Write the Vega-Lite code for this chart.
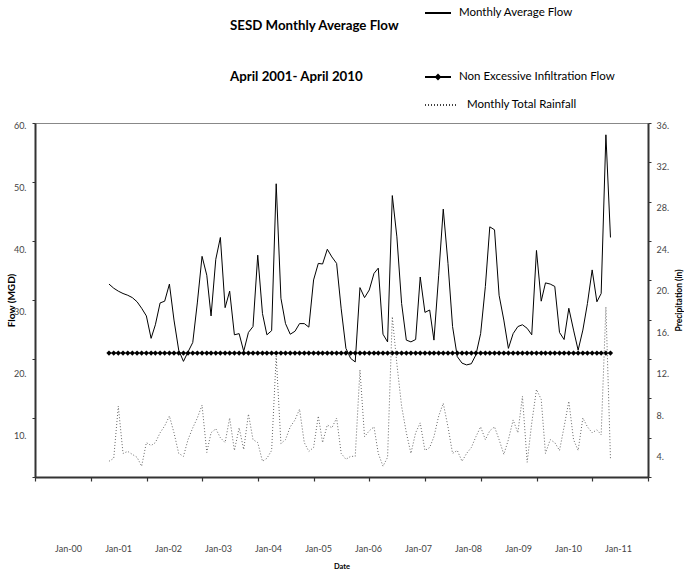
{
  "$schema": "https://vega.github.io/schema/vega-lite/v6.json",
  "width": 613,
  "height": 354,
  "autosize": {"type": "none"},
  "padding": {"left": 35, "top": 123, "right": 36, "bottom": 96},
  "background": "white",
  "config": {
    "font": "Lato",
    "view": {"stroke": "#888", "strokeWidth": 1},
    "axis": {"grid": false},
    "legend": {"padding": 0, "labelFont": "Lato", "labelFontSize": 11.5, "labelColor": "black"}
  },
  "title": {
    "text": "SESD Monthly Average Flow",
    "subtitle": "April 2001- April 2010",
    "anchor": "start",
    "frame": "group",
    "dx": 195,
    "offset": -84,
    "font": "Lato",
    "fontSize": 13.3,
    "fontWeight": "bold",
    "color": "black",
    "subtitleFont": "Lato",
    "subtitleFontSize": 13.3,
    "subtitleFontWeight": "bold",
    "subtitleColor": "black",
    "subtitlePadding": 37
  },
  "data": {"values": [
    {"date":"2001-04-30","flow":32.7,"nei":21,"rain":1.6},
    {"date":"2001-05-31","flow":32.0,"nei":21,"rain":1.9},
    {"date":"2001-06-30","flow":31.5,"nei":21,"rain":7.2},
    {"date":"2001-07-31","flow":31.1,"nei":21,"rain":2.4},
    {"date":"2001-08-31","flow":30.8,"nei":21,"rain":2.6},
    {"date":"2001-09-30","flow":30.4,"nei":21,"rain":2.3},
    {"date":"2001-10-31","flow":29.7,"nei":21,"rain":2.0},
    {"date":"2001-11-30","flow":28.6,"nei":21,"rain":1.1},
    {"date":"2001-12-31","flow":27.3,"nei":21,"rain":3.5},
    {"date":"2002-01-31","flow":23.5,"nei":21,"rain":3.2},
    {"date":"2002-02-28","flow":25.8,"nei":21,"rain":3.5},
    {"date":"2002-03-31","flow":29.5,"nei":21,"rain":4.5},
    {"date":"2002-04-30","flow":29.8,"nei":21,"rain":5.2},
    {"date":"2002-05-31","flow":32.7,"nei":21,"rain":6.2},
    {"date":"2002-06-30","flow":26.6,"nei":21,"rain":4.5},
    {"date":"2002-07-31","flow":21.5,"nei":21,"rain":2.4},
    {"date":"2002-08-31","flow":19.6,"nei":21,"rain":2.1},
    {"date":"2002-09-30","flow":21.2,"nei":21,"rain":3.8},
    {"date":"2002-10-31","flow":22.8,"nei":21,"rain":5.0},
    {"date":"2002-11-30","flow":29.5,"nei":21,"rain":6.0},
    {"date":"2002-12-31","flow":37.4,"nei":21,"rain":7.3},
    {"date":"2003-01-31","flow":34.2,"nei":21,"rain":2.5},
    {"date":"2003-02-28","flow":27.3,"nei":21,"rain":4.5},
    {"date":"2003-03-31","flow":36.9,"nei":21,"rain":4.9},
    {"date":"2003-04-30","flow":40.6,"nei":21,"rain":4.0},
    {"date":"2003-05-31","flow":28.7,"nei":21,"rain":3.5},
    {"date":"2003-06-30","flow":31.5,"nei":21,"rain":6.0},
    {"date":"2003-07-31","flow":24.1,"nei":21,"rain":2.7},
    {"date":"2003-08-31","flow":24.3,"nei":21,"rain":5.0},
    {"date":"2003-09-30","flow":21.3,"nei":21,"rain":2.8},
    {"date":"2003-10-31","flow":24.5,"nei":21,"rain":6.4},
    {"date":"2003-11-30","flow":25.5,"nei":21,"rain":3.8},
    {"date":"2003-12-31","flow":37.6,"nei":21,"rain":3.5},
    {"date":"2004-01-31","flow":27.7,"nei":21,"rain":1.6},
    {"date":"2004-02-29","flow":24.1,"nei":21,"rain":1.9},
    {"date":"2004-03-31","flow":24.8,"nei":21,"rain":2.7},
    {"date":"2004-04-30","flow":49.7,"nei":21,"rain":12.3},
    {"date":"2004-05-31","flow":30.3,"nei":21,"rain":3.4},
    {"date":"2004-06-30","flow":26.0,"nei":21,"rain":3.8},
    {"date":"2004-07-31","flow":24.2,"nei":21,"rain":5.1},
    {"date":"2004-08-31","flow":24.7,"nei":21,"rain":5.8},
    {"date":"2004-09-30","flow":26.0,"nei":21,"rain":6.9},
    {"date":"2004-10-31","flow":26.0,"nei":21,"rain":3.5},
    {"date":"2004-11-30","flow":25.4,"nei":21,"rain":2.6},
    {"date":"2004-12-31","flow":33.4,"nei":21,"rain":3.0},
    {"date":"2005-01-31","flow":36.2,"nei":21,"rain":6.2},
    {"date":"2005-02-28","flow":36.1,"nei":21,"rain":3.5},
    {"date":"2005-03-31","flow":38.6,"nei":21,"rain":5.3},
    {"date":"2005-04-30","flow":37.3,"nei":21,"rain":5.0},
    {"date":"2005-05-31","flow":36.2,"nei":21,"rain":6.0},
    {"date":"2005-06-30","flow":28.5,"nei":21,"rain":2.4},
    {"date":"2005-07-31","flow":21.8,"nei":21,"rain":1.8},
    {"date":"2005-08-31","flow":20.1,"nei":21,"rain":2.1},
    {"date":"2005-09-30","flow":19.5,"nei":21,"rain":2.1},
    {"date":"2005-10-31","flow":32.1,"nei":21,"rain":10.9},
    {"date":"2005-11-30","flow":30.4,"nei":21,"rain":4.1},
    {"date":"2005-12-31","flow":31.7,"nei":21,"rain":4.7},
    {"date":"2006-01-31","flow":34.5,"nei":21,"rain":5.1},
    {"date":"2006-02-28","flow":35.4,"nei":21,"rain":2.4},
    {"date":"2006-03-31","flow":24.2,"nei":21,"rain":1.1},
    {"date":"2006-04-30","flow":22.9,"nei":21,"rain":2.0},
    {"date":"2006-05-31","flow":47.7,"nei":21,"rain":16.3},
    {"date":"2006-06-30","flow":40.7,"nei":21,"rain":11.5},
    {"date":"2006-07-31","flow":29.4,"nei":21,"rain":7.2},
    {"date":"2006-08-31","flow":23.2,"nei":21,"rain":4.5},
    {"date":"2006-09-30","flow":22.9,"nei":21,"rain":2.4},
    {"date":"2006-10-31","flow":23.3,"nei":21,"rain":4.5},
    {"date":"2006-11-30","flow":33.9,"nei":21,"rain":5.5},
    {"date":"2006-12-31","flow":27.9,"nei":21,"rain":2.7},
    {"date":"2007-01-31","flow":28.3,"nei":21,"rain":3.0},
    {"date":"2007-02-28","flow":23.2,"nei":21,"rain":4.1},
    {"date":"2007-03-31","flow":34.2,"nei":21,"rain":6.2},
    {"date":"2007-04-30","flow":45.4,"nei":21,"rain":7.5},
    {"date":"2007-05-31","flow":36.2,"nei":21,"rain":5.1},
    {"date":"2007-06-30","flow":25.5,"nei":21,"rain":2.4},
    {"date":"2007-07-31","flow":20.4,"nei":21,"rain":2.7},
    {"date":"2007-08-31","flow":19.3,"nei":21,"rain":1.6},
    {"date":"2007-09-30","flow":19.0,"nei":21,"rain":2.4},
    {"date":"2007-10-31","flow":19.2,"nei":21,"rain":3.0},
    {"date":"2007-11-30","flow":20.7,"nei":21,"rain":4.1},
    {"date":"2007-12-31","flow":24.3,"nei":21,"rain":5.1},
    {"date":"2008-01-31","flow":32.3,"nei":21,"rain":3.8},
    {"date":"2008-02-29","flow":42.4,"nei":21,"rain":4.7},
    {"date":"2008-03-31","flow":41.9,"nei":21,"rain":5.1},
    {"date":"2008-04-30","flow":30.8,"nei":21,"rain":3.8},
    {"date":"2008-05-31","flow":26.6,"nei":21,"rain":2.3},
    {"date":"2008-06-30","flow":21.8,"nei":21,"rain":3.8},
    {"date":"2008-07-31","flow":24.3,"nei":21,"rain":5.8},
    {"date":"2008-08-31","flow":25.5,"nei":21,"rain":4.5},
    {"date":"2008-09-30","flow":25.8,"nei":21,"rain":8.2},
    {"date":"2008-10-31","flow":25.2,"nei":21,"rain":1.5},
    {"date":"2008-11-30","flow":24.1,"nei":21,"rain":5.5},
    {"date":"2008-12-31","flow":38.4,"nei":21,"rain":8.9},
    {"date":"2009-01-31","flow":29.8,"nei":21,"rain":7.9},
    {"date":"2009-02-28","flow":32.9,"nei":21,"rain":2.4},
    {"date":"2009-03-31","flow":32.7,"nei":21,"rain":3.8},
    {"date":"2009-04-30","flow":32.3,"nei":21,"rain":3.5},
    {"date":"2009-05-31","flow":24.5,"nei":21,"rain":2.7},
    {"date":"2009-06-30","flow":23.3,"nei":21,"rain":5.1},
    {"date":"2009-07-31","flow":28.6,"nei":21,"rain":7.7},
    {"date":"2009-08-31","flow":24.9,"nei":21,"rain":3.8},
    {"date":"2009-09-30","flow":21.5,"nei":21,"rain":2.7},
    {"date":"2009-10-31","flow":24.9,"nei":21,"rain":6.0},
    {"date":"2009-11-30","flow":29.4,"nei":21,"rain":5.1},
    {"date":"2009-12-31","flow":35.1,"nei":21,"rain":4.5},
    {"date":"2010-01-31","flow":29.7,"nei":21,"rain":4.8},
    {"date":"2010-02-28","flow":31.1,"nei":21,"rain":4.3},
    {"date":"2010-03-31","flow":58.0,"nei":21,"rain":17.3},
    {"date":"2010-04-30","flow":40.6,"nei":21,"rain":1.9}
  ]},
  "layer": [
    {
      "encoding": {
        "x": {
          "field": "date", "type": "temporal",
          "scale": {"domain": [{"year":2000,"month":1,"date":1},{"year":2011,"month":1,"date":1}], "nice": false},
          "axis": {
            "title": null, "labels": false, "grid": false,
            "values": [{"year":2000,"month":1,"date":1},{"year":2001,"month":1,"date":1},{"year":2002,"month":1,"date":1},{"year":2003,"month":1,"date":1},{"year":2004,"month":1,"date":1},{"year":2005,"month":1,"date":1},{"year":2006,"month":1,"date":1},{"year":2007,"month":1,"date":1},{"year":2008,"month":1,"date":1},{"year":2009,"month":1,"date":1},{"year":2010,"month":1,"date":1},{"year":2011,"month":1,"date":1}],
            "tickSize": 4, "tickColor": "#333", "tickWidth": 1.2,
            "domainColor": "#333", "domainWidth": 2
          }
        }
      },
      "layer": [
        {
          "mark": {"type": "line", "strokeWidth": 1},
          "encoding": {
            "y": {"field": "flow", "type": "quantitative", "scale": {"domain": [0, 60], "nice": false},
              "axis": {"title": "Flow (MGD)", "values": [0,10,20,30,40,50,60],
                "labelExpr": "datum.value == 0 ? '' : datum.value + '.'",
                "labelOffset": {"expr": "(60 - datum.value) * 0.3 + 2"},
                "labelFontSize": 9, "labelColor": "#444", "labelPadding": 6,
                "tickSize": 3, "tickColor": "#333", "domainColor": "#333", "domainWidth": 2,
                "titleFontSize": 10, "titleFontWeight": "bold", "titleColor": "black", "titlePadding": -3}},
            "color": {"datum": "Monthly Average Flow", "scale": {"range": ["black"]},
              "legend": {"title": null, "orient": "none", "legendX": 389, "legendY": -124,
                "symbolType": "stroke", "symbolSize": 676, "symbolStrokeWidth": 2, "labelOffset": 7}}
          }
        },
        {
          "mark": {"type": "line", "color": "#888", "strokeWidth": 1.5},
          "encoding": {
            "y": {"field": "nei", "type": "quantitative", "scale": {"domain": [0, 60], "nice": false},
              "axis": {"title": "Flow (MGD)"}}
          }
        },
        {
          "mark": {"type": "point", "shape": "diamond", "filled": true, "size": 28, "opacity": 1},
          "encoding": {
            "y": {"field": "nei", "type": "quantitative", "scale": {"domain": [0, 60], "nice": false},
              "axis": {"title": "Flow (MGD)"}},
            "fill": {"datum": "Non Excessive Infiltration Flow", "scale": {"range": ["black"]},
              "legend": {"title": null, "orient": "none", "legendX": 389, "legendY": -60,
                "symbolType": "M-1,-0.07L1,-0.07L1,0.07L-1,0.07Z M0,-0.26L0.26,0L0,0.26L-0.26,0Z",
                "symbolSize": 676, "labelOffset": 7}}
          }
        }
      ]
    },
    {
      "mark": {"type": "line", "color": "#666", "strokeWidth": 1},
      "encoding": {
        "x": {"field": "date", "type": "temporal",
          "scale": {"domain": [{"year":2000,"month":1,"date":1},{"year":2011,"month":1,"date":1}], "nice": false},
          "axis": null},
        "y": {"field": "rain", "type": "quantitative", "scale": {"domain": [0, 36], "nice": false},
          "axis": {"orient": "right", "title": "Precipitation (in)", "values": [0,4,8,12,16,20,24,28,32,36],
            "labelExpr": "datum.value == 0 ? '' : datum.value + '.'",
            "labelOffset": {"expr": "(36 - datum.value) * 0.53 + 2"},
            "labelFontSize": 9, "labelColor": "#444", "labelPadding": 5,
            "tickSize": 3, "tickColor": "#333", "domainColor": "#333", "domainWidth": 2,
            "titleAngle": 270, "titleBaseline": "top",
            "titleFontSize": 8.5, "titleFontWeight": "bold", "titleColor": "black", "titlePadding": 6}},
        "strokeDash": {"datum": "Monthly Total Rainfall", "scale": {"range": [[1, 2]]},
          "legend": {"title": null, "orient": "none", "legendX": 389, "legendY": -35,
            "symbolType": "stroke", "symbolSize": 1024, "symbolStrokeColor": "black", "symbolStrokeWidth": 1.5,
            "labelOffset": 9}}
      }
    },
    {
      "mark": {"type": "point", "opacity": 0},
      "encoding": {
        "x": {"field": "date", "type": "temporal",
          "scale": {"domain": [{"year":1999,"month":5,"date":5},{"year":2011,"month":8,"date":8}], "nice": false},
          "axis": {"orient": "bottom", "title": "Date", "format": "%b-%y", "offset": 67,
            "values": [{"year":2000,"month":1,"date":1},{"year":2001,"month":1,"date":1},{"year":2002,"month":1,"date":1},{"year":2003,"month":1,"date":1},{"year":2004,"month":1,"date":1},{"year":2005,"month":1,"date":1},{"year":2006,"month":1,"date":1},{"year":2007,"month":1,"date":1},{"year":2008,"month":1,"date":1},{"year":2009,"month":1,"date":1},{"year":2010,"month":1,"date":1},{"year":2011,"month":1,"date":1}],
            "ticks": false, "domain": false, "labelPadding": 0, "labelFontSize": 9, "labelColor": "#444",
            "titleFontSize": 7.5, "titleFontWeight": "bold", "titleColor": "black", "titlePadding": 9}}
      }
    }
  ],
  "resolve": {"scale": {"x": "independent", "y": "independent"}}
}
